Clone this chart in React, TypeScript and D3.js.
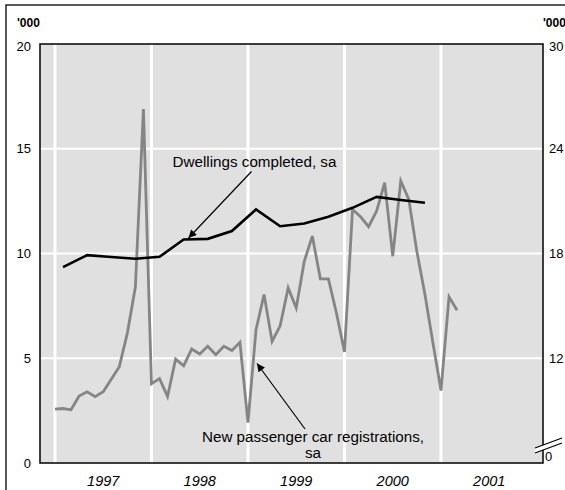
import React from "react";
import * as d3 from "d3";

const carRegistrations: number[] = [
  2.57, 2.6, 2.54, 3.2, 3.4, 3.17, 3.4, 4.0, 4.6, 6.2, 8.4, 16.9,
  3.78, 4.03, 3.17, 4.96, 4.64, 5.44, 5.2, 5.57, 5.17, 5.57, 5.37, 5.76,
  1.93, 6.36, 8.04, 5.8, 6.55, 8.36, 7.4, 9.63, 10.83, 8.79, 8.79, 7.16,
  5.3, 12.1, 11.75, 11.28, 12.03, 13.38, 9.87, 13.46, 12.58, 10.1, 8.05, 5.73,
  3.46, 7.93, 7.29,
];
const carStart = 1997; // monthly from Jan 1997

const dwellings: number[] = [
  9.35, 9.92, 9.83, 9.75, 9.84, 10.67, 10.7, 11.07, 12.1, 11.3, 11.43, 11.75,
  12.18, 12.7, 12.55, 12.42,
];
const dwellStart = 1997 + 1 / 12; // quarterly, mid-quarter months

const years: number[] = [1997, 1998, 1999, 2000, 2001];
const leftTicks: number[] = [0, 5, 10, 15, 20];
const rightTickLabels: string[] = ["0", "12", "18", "24", "30"];
const gridTicks: number[] = [5, 10, 15];

const W = 565;
const H = 490;
const plot = { left: 40, right: 543, top: 44, bottom: 463 };
const FONT = "'Liberation Sans', Arial, sans-serif";

export default function App() {
  const x = d3
    .scaleLinear()
    .domain([1996.845, 2002.057])
    .range([plot.left, plot.right]);
  const y = d3.scaleLinear().domain([0, 20]).range([plot.bottom, plot.top]);

  const carLine = d3
    .line<number>()
    .x((_, i) => x(carStart + i / 12))
    .y((d) => y(d));
  const dwellLine = d3
    .line<number>()
    .x((_, i) => x(dwellStart + i / 4))
    .y((d) => y(d));

  return (
    <svg
      width={W}
      height={H}
      style={{ position: "absolute", left: 0, top: 0, background: "#fff" }}
      fontFamily={FONT}
    >
      <defs>
        <marker
          id="arrow"
          viewBox="0 0 10 10"
          refX="10"
          refY="5"
          markerWidth="11"
          markerHeight="8"
          markerUnits="userSpaceOnUse"
          orient="auto"
        >
          <path d="M0,0 L10,5 L0,10 z" fill="#000" />
        </marker>
      </defs>
      {/* outer frame */}
      <rect x={6} y={5} width={W + 10} height={H + 10} fill="none" stroke="#000" strokeWidth={1.3} />

      {/* plot background */}
      <rect
        x={plot.left}
        y={plot.top}
        width={plot.right - plot.left}
        height={plot.bottom - plot.top}
        fill="#e0e0e0"
      />
      {/* gridlines */}
      {years.map((yr) => (
        <line key={"v" + yr} x1={x(yr)} x2={x(yr)} y1={plot.top} y2={plot.bottom} stroke="#fff" strokeWidth={3} />
      ))}
      {gridTicks.map((t) => (
        <line key={"h" + t} x1={plot.left} x2={plot.right} y1={y(t)} y2={y(t)} stroke="#fff" strokeWidth={2} />
      ))}

      {/* series */}
      <path d={carLine(carRegistrations) || ""} fill="none" stroke="#858585" strokeWidth={2.8} strokeLinejoin="miter" />
      <path d={dwellLine(dwellings) || ""} fill="none" stroke="#000" strokeWidth={2.6} strokeLinejoin="miter" />

      {/* plot border */}
      <rect
        x={plot.left}
        y={plot.top}
        width={plot.right - plot.left}
        height={plot.bottom - plot.top}
        fill="none"
        stroke="#000"
        strokeWidth={1.5}
      />

      {/* axis break on right */}
      <polygon points="535,448 562,438 562,443 535,453" fill="#fff" stroke="none" />
      <line x1={535} y1={448} x2={562} y2={438} stroke="#000" strokeWidth={1.3} />
      <line x1={535} y1={453} x2={562} y2={443} stroke="#000" strokeWidth={1.3} />

      {/* left axis */}
      <text x={17} y={27} fontSize={12} fontWeight="bold">'000</text>
      {leftTicks.map((t) => (
        <text key={"l" + t} x={31} y={y(t) + (t === 20 ? 7 : 4.5)} fontSize={13} textAnchor="end">
          {t}
        </text>
      ))}
      {/* right axis */}
      <text x={543} y={27} fontSize={12} fontWeight="bold">'000</text>
      {leftTicks.map((t, i) => (
        <text
          key={"r" + t}
          x={i === 0 ? 545 : 549}
          y={i === 0 ? 461 : y(t) + (t === 20 ? 7 : 4.5)}
          fontSize={13}
        >
          {rightTickLabels[i]}
        </text>
      ))}

      {/* year labels */}
      {years.map((yr) => (
        <text key={"y" + yr} x={x(yr + 0.5)} y={486} fontSize={14.5} fontStyle="italic" textAnchor="middle">
          {yr}
        </text>
      ))}

      {/* annotations */}
      <text x={254.5} y={167} fontSize={15.2} textAnchor="middle">Dwellings completed, sa</text>
      <line x1={251.5} y1={171.5} x2={188.5} y2={238} stroke="#000" strokeWidth={1.2} markerEnd="url(#arrow)" />

      <text x={313} y={441.5} fontSize={15.2} textAnchor="middle">New passenger car registrations,</text>
      <text x={313} y={458} fontSize={15.2} textAnchor="middle">sa</text>
      <line x1={305} y1={429} x2={257} y2={363.5} stroke="#000" strokeWidth={1.2} markerEnd="url(#arrow)" />
    </svg>
  );
}
